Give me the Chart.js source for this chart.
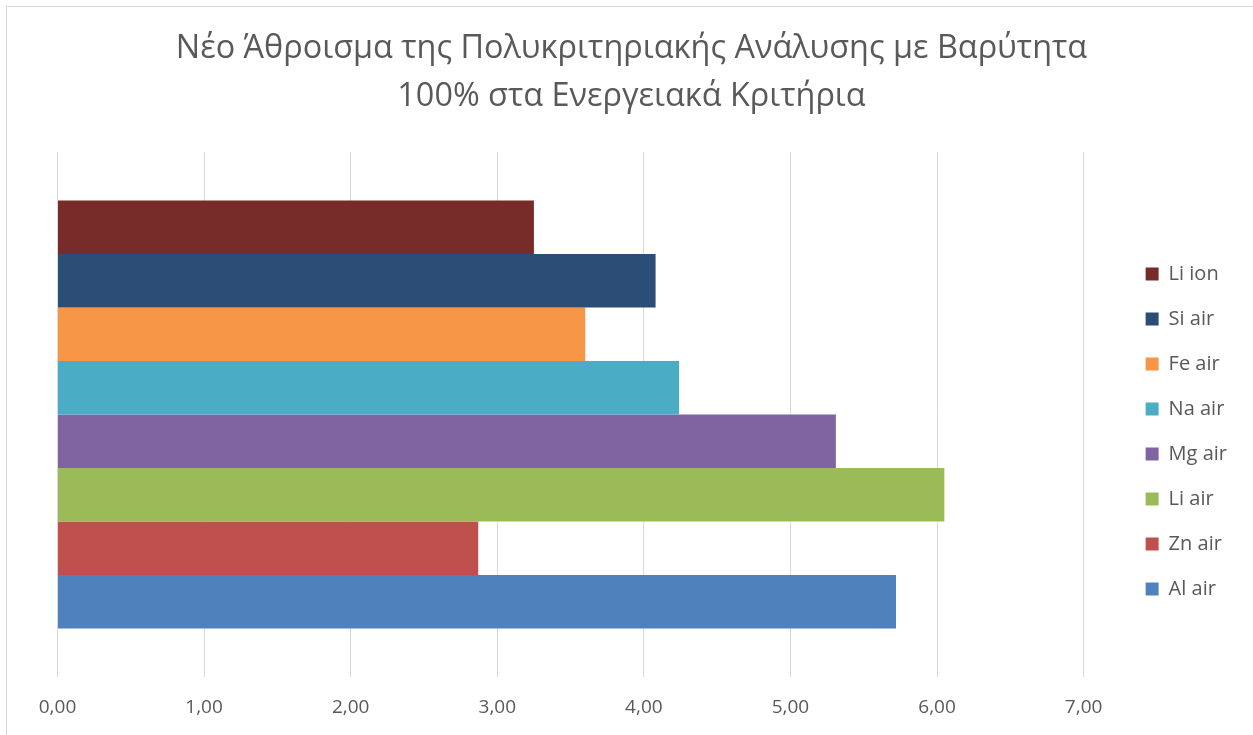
<!DOCTYPE html>
<html lang="el">
<head>
<meta charset="utf-8">
<title>Νέο Άθροισμα της Πολυκριτηριακής Ανάλυσης</title>
<script src="https://cdn.jsdelivr.net/npm/chart.js@4/dist/chart.umd.min.js"></script>
<style>
  html, body { margin: 0; padding: 0; background: #fff; overflow: hidden; }
  #frame {
    position: absolute; left: 6px; top: 6px; width: 1300px; height: 800px;
    border: 1px solid #d9d9d9; box-sizing: border-box;
  }
  #wrap { position: absolute; left: 0; top: 0; width: 1253px; height: 735px; }
</style>
</head>
<body>
<div id="frame"></div>
<div id="wrap"><canvas id="chart"></canvas></div>
<script>
// Σειρές με τη σειρά του φύλλου (η πρώτη σχεδιάζεται κάτω)
const seriesNames = ["Al air", "Zn air", "Li air", "Mg air", "Na air", "Fe air", "Si air", "Li ion"];
const seriesColors = ["#4f81bd", "#c0504d", "#9bbb59", "#8064a2", "#4bacc6", "#f79646", "#2c4d75", "#772c2a"];
const scores = [5.72, 2.87, 6.05, 5.31, 4.24, 3.60, 4.08, 3.25];
const categories = ["Σύνολο"];
const xTicks = [0, 1, 2, 3, 4, 5, 6, 7];

const TEXT = "#595959";
const GRID = "#d9d9d9";
const FONT = "'Open Sans', 'Noto Sans', sans-serif";
const LEGEND_EXTRA = 53;  // επιπλέον πλάτος για το υπόμνημα
const LEGEND_SHIFT = 37;  // μετατόπιση των στοιχείων του προς τα δεξιά

// Chart.js βάζει το πρώτο dataset πάνω, άρα αντιστρέφουμε
const datasets = seriesNames.map((name, i) => ({
  label: name,
  data: [scores[i]],
  backgroundColor: seriesColors[i],
  borderWidth: 0,
})).reverse();

// απόσταση ανάμεσα στην περιοχή σχεδίασης και το υπόμνημα, και κατακόρυφο κεντράρισμα
const legendGap = {
  id: "legendGap",
  beforeLayout(chart) {
    const lg = chart.legend;
    if (!lg || lg._gapWrapped) return;
    const fit = lg.fit.bind(lg);
    lg.fit = function () { fit(); this.width += LEGEND_EXTRA; };
    lg._gapWrapped = true;
  },
  afterLayout(chart) {
    const lg = chart.legend;
    if (!lg) return;
    const area = chart.chartArea;
    const dy = (area.top + area.bottom) / 2 - (lg.top + lg.bottom) / 2 + 17;
    lg.left += LEGEND_SHIFT; lg.right += LEGEND_SHIFT;
    lg.top += dy; lg.bottom += dy;
  },
};

const fmt = (v) => Number(v).toFixed(2).replace(".", ",");

new Chart(document.getElementById("chart"), {
  type: "bar",
  data: { labels: categories, datasets },
  plugins: [legendGap],
  options: {
    indexAxis: "y",
    responsive: true,
    maintainAspectRatio: false,
    animation: false,
    layout: { padding: { left: 10, right: 0, top: 0, bottom: -4 } },
    datasets: { bar: { categoryPercentage: 0.815, barPercentage: 1 } },
    scales: {
      x: {
        min: xTicks[0],
        max: xTicks[xTicks.length - 1],
        afterBuildTicks: (s) => { s.ticks = xTicks.map((v) => ({ value: v })); },
        grid: { color: GRID, lineWidth: 1, drawTicks: false },
        border: { display: false },
        ticks: { color: TEXT, font: { family: FONT, size: 19 }, padding: 19.6, callback: fmt },
      },
      y: {
        afterFit: (s) => { s.width = 47.5; },
        grid: { display: false },
        border: { display: false },
        ticks: { display: false },
      },
    },
    plugins: {
      title: {
        display: true,
        text: ["Νέο Άθροισμα της Πολυκριτηριακής Ανάλυσης με Βαρύτητα", "100% στα Ενεργειακά Κριτήρια"],
        color: TEXT,
        font: { family: FONT, size: 32.4, weight: "normal", lineHeight: 1.48 },
        padding: { top: 25, bottom: 31 },
      },
      legend: {
        position: "right",
        labels: {
          color: TEXT,
          font: { family: FONT, size: 20 },
          boxWidth: 13,
          boxHeight: 13,
          padding: 25,
        },
      },
      tooltip: { enabled: false },
    },
  },
});
</script>
</body>
</html>
